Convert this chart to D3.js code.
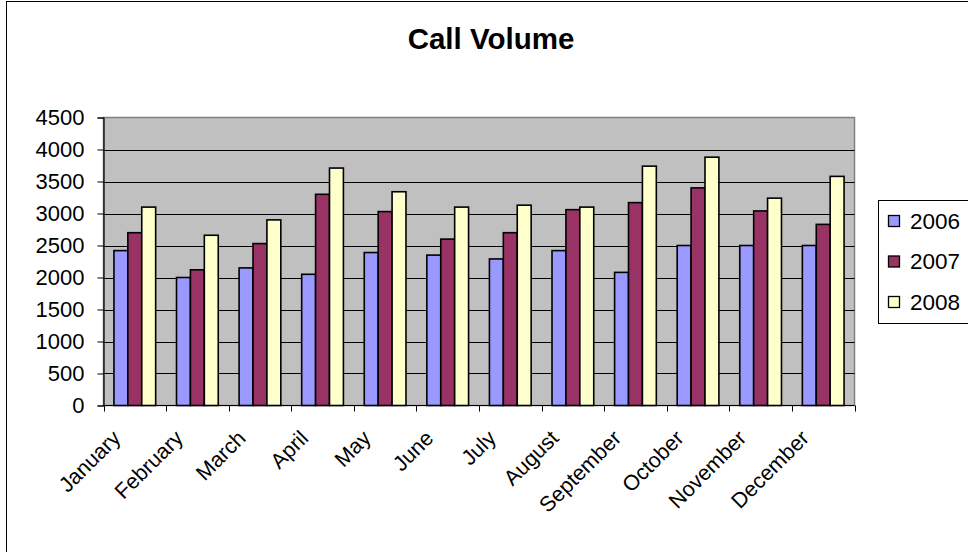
<!DOCTYPE html>
<html>
<head>
<meta charset="utf-8">
<script src="https://cdn.jsdelivr.net/npm/d3@7"></script>
<style>
  html, body { margin: 0; padding: 0; background: #fff; }
  svg { display: block; font-family: "Liberation Sans", Arial, sans-serif; }
</style>
</head>
<body>
<svg id="chart" width="968" height="552"></svg>
<script>
// Monthly call volume, three years side by side
const months = ["January", "February", "March", "April", "May", "June",
                "July", "August", "September", "October", "November", "December"];
const years = ["2006", "2007", "2008"];
const calls2006 = [2420, 2000, 2150, 2050, 2390, 2350, 2290, 2420, 2080, 2500, 2500, 2500];
const calls2007 = [2700, 2120, 2530, 3300, 3030, 2600, 2700, 3060, 3170, 3400, 3040, 2830];
const calls2008 = [3100, 2660, 2900, 3710, 3340, 3100, 3130, 3100, 3740, 3880, 3240, 3580];
const yTicks = [0, 500, 1000, 1500, 2000, 2500, 3000, 3500, 4000, 4500];
const colors = ["#9999FF", "#993366", "#FFFFCC"];

const seriesValues = [calls2006, calls2007, calls2008];
const rows = months.map((m, i) => ({ month: m, values: years.map((yr, j) => ({ year: yr, value: seriesValues[j][i] })) }));

const svg = d3.select("#chart");
const plot = { left: 103.5, right: 854.5, top: 117.5, bottom: 405.5 };

// Outer chart frame
svg.append("rect")
  .attr("x", 6.5).attr("y", 1.5).attr("width", 1000).attr("height", 600)
  .attr("fill", "#fff").attr("stroke", "#000").attr("stroke-width", 1);

// Title
svg.append("text")
  .attr("x", 491).attr("y", 49)
  .attr("text-anchor", "middle")
  .attr("font-size", 29.5).attr("font-weight", "bold")
  .text("Call Volume");

const x = d3.scaleBand().domain(months).range([plot.left, plot.right]).padding(0);
const y = d3.scaleLinear().domain([0, 4500]).range([plot.bottom, plot.top]);

// Three bars per month with a 150% gap between groups
const bw = x.bandwidth() / 4.5;
const xs = d3.scaleBand().domain(years).range([0.75 * bw, 3.75 * bw]).padding(0);

// Plot area background
svg.append("rect")
  .attr("x", plot.left).attr("y", plot.top)
  .attr("width", plot.right - plot.left).attr("height", plot.bottom - plot.top)
  .attr("fill", "#C0C0C0").attr("stroke", "#808080").attr("stroke-width", 1.5);

// Horizontal gridlines
svg.append("g").selectAll("line")
  .data(yTicks.filter(t => t > 0 && t < 4500))
  .join("line")
  .attr("x1", plot.left).attr("x2", plot.right)
  .attr("y1", d => Math.round(y(d)) + 0.5).attr("y2", d => Math.round(y(d)) + 0.5)
  .attr("stroke", "#000").attr("stroke-width", 1);

// Bars
const groups = svg.append("g").selectAll("g")
  .data(rows)
  .join("g")
  .attr("transform", d => `translate(${x(d.month)},0)`);

groups.selectAll("rect")
  .data(d => d.values)
  .join("rect")
  .attr("x", d => xs(d.year))
  .attr("y", d => y(d.value))
  .attr("width", xs.bandwidth())
  .attr("height", d => y(0) - y(d.value))
  .attr("fill", (d, i) => colors[i])
  .attr("stroke", "#000").attr("stroke-width", 1.6);

// Y axis
const yAxis = svg.append("g")
  .attr("transform", `translate(${plot.left},0)`)
  .call(d3.axisLeft(y).tickValues(yTicks).tickSize(6).tickPadding(13).tickFormat(d3.format("d")));
yAxis.select(".domain").attr("stroke", "#000").attr("stroke-width", 1.2);
yAxis.selectAll(".tick line").attr("stroke", "#000");
yAxis.selectAll(".tick text")
  .attr("font-family", "Liberation Sans, Arial, sans-serif")
  .attr("font-size", 22).attr("fill", "#000");

// X axis line with ticks at category boundaries
const boundaries = months.map(m => x(m)).concat([plot.right]);
svg.append("line")
  .attr("x1", plot.left).attr("x2", plot.right)
  .attr("y1", plot.bottom).attr("y2", plot.bottom)
  .attr("stroke", "#000").attr("stroke-width", 1.2);
svg.append("g").selectAll("line")
  .data(boundaries)
  .join("line")
  .attr("x1", d => Math.round(d) + 0.5).attr("x2", d => Math.round(d) + 0.5)
  .attr("y1", plot.bottom).attr("y2", plot.bottom + 6)
  .attr("stroke", "#000");

// Rotated month labels
svg.append("g").selectAll("text")
  .data(months)
  .join("text")
  .attr("transform", m => `translate(${x(m) + x.bandwidth() / 2 - 13},${plot.bottom + 34}) rotate(-45)`)
  .attr("text-anchor", "end")
  .attr("font-size", 21.5)
  .text(m => m);

// Legend
const legend = svg.append("g");
legend.append("rect")
  .attr("x", 878.5).attr("y", 200.5).attr("width", 200).attr("height", 123)
  .attr("fill", "#fff").attr("stroke", "#000").attr("stroke-width", 1);
const items = legend.selectAll("g.item")
  .data(years)
  .join("g").attr("class", "item")
  .attr("transform", (d, i) => `translate(0,${221 + i * 40.5})`);
items.append("rect")
  .attr("x", 888.5).attr("y", -5.5).attr("width", 11).attr("height", 11)
  .attr("fill", (d, i) => colors[i]).attr("stroke", "#000").attr("stroke-width", 1.3);
items.append("text")
  .attr("x", 910).attr("y", 7.5)
  .attr("font-size", 22.5)
  .text(d => d);
</script>
</body>
</html>
